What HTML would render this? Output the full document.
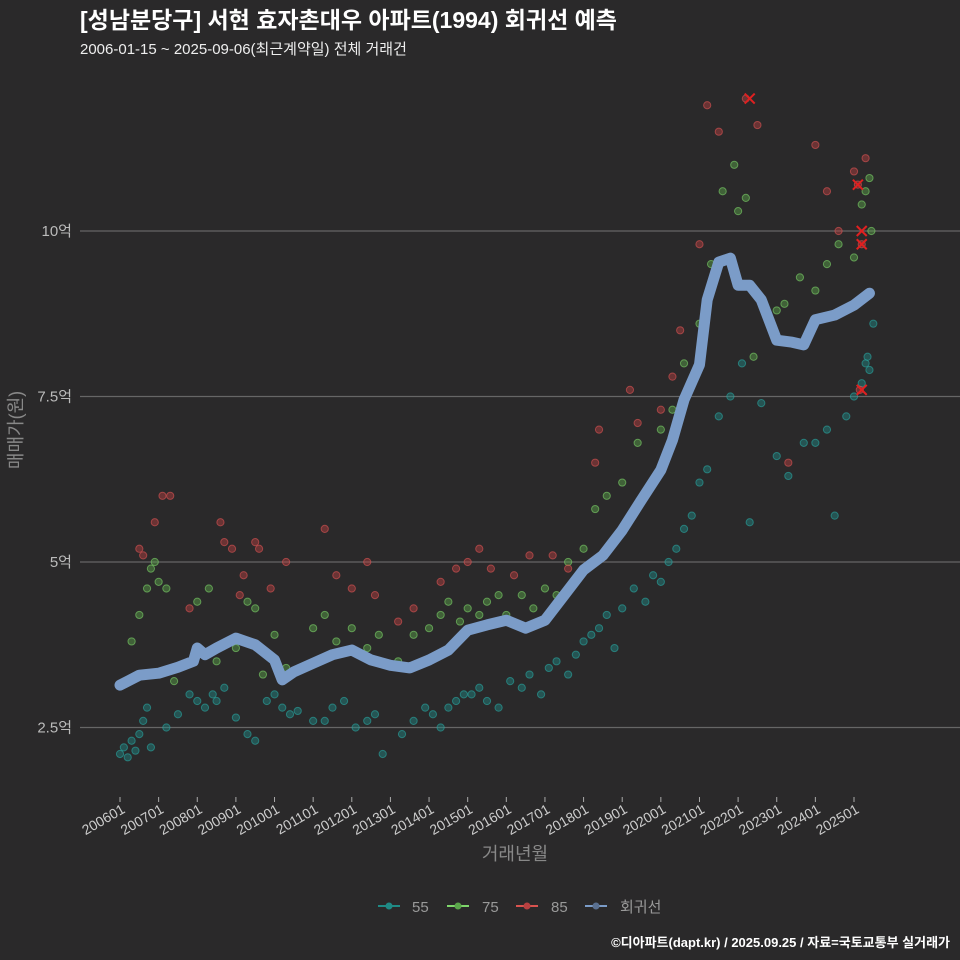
<!DOCTYPE html>
<html><head><meta charset="utf-8">
<style>
body{margin:0;background:#2a292a;}
svg{display:block;font-family:"Liberation Sans","Noto Sans CJK KR",sans-serif;}
</style></head>
<body>
<svg id="chart" width="960" height="960" viewBox="0 0 960 960">
<rect width="960" height="960" fill="#2a292a"/>
<text x="80" y="28" fill="#fff" font-size="23" font-weight="bold">[성남분당구] 서현 효자촌대우 아파트(1994) 회귀선 예측</text>
<text x="80" y="54" fill="#eee" font-size="15">2006-01-15 ~ 2025-09-06(최근계약일) 전체 거래건</text>
<g id="grid"></g>
<g id="yticks"></g>
<g id="xticks"></g>
<g id="points"></g>
<g id="reg"></g>
<g id="marks"></g>
<text transform="translate(22,430) rotate(-90)" text-anchor="middle" fill="#888" font-size="18">매매가(원)</text>
<text x="515" y="860" text-anchor="middle" fill="#888" font-size="18">거래년월</text>
<g font-size="15" fill="#999">
 <g><line x1="378" y1="906" x2="400" y2="906" stroke="#1f8a85" stroke-width="2"/><circle cx="389" cy="906" r="3.5" fill="#1f8a85"/><text x="412" y="912">55</text></g>
 <g><line x1="447" y1="906" x2="469" y2="906" stroke="#7ed66b" stroke-width="2"/><circle cx="458" cy="906" r="3.5" fill="#5aa64a"/><text x="482" y="912">75</text></g>
 <g><line x1="516" y1="906" x2="538" y2="906" stroke="#d9534f" stroke-width="2"/><circle cx="527" cy="906" r="3.5" fill="#b84040"/><text x="551" y="912">85</text></g>
 <g><line x1="585" y1="906" x2="607" y2="906" stroke="#7b9cc8" stroke-width="2"/><circle cx="596" cy="906" r="3.5" fill="#5a7090"/><text x="620" y="912">회귀선</text></g>
</g>
<text x="950" y="947" text-anchor="end" fill="#fff" font-size="13" font-weight="bold">©디아파트(dapt.kr) / 2025.09.25 / 자료=국토교통부 실거래가</text>
</svg>
<script>
const yTicks=[2.5,5,7.5,10];
const yTickLabels=["2.5억","5억","7.5억","10억"];
const xTickYears=[2006,2007,2008,2009,2010,2011,2012,2013,2014,2015,2016,2017,2018,2019,2020,2021,2022,2023,2024,2025];
const regX=[2006.0,2006.5,2007.0,2007.5,2007.9,2008.0,2008.2,2008.5,2009.0,2009.5,2010.0,2010.2,2010.5,2011.0,2011.5,2012.0,2012.5,2013.0,2013.5,2014.0,2014.5,2015.0,2015.5,2016.0,2016.5,2017.0,2017.5,2018.0,2018.5,2019.0,2019.5,2020.0,2020.3,2020.6,2021.0,2021.2,2021.5,2021.8,2022.0,2022.3,2022.6,2023.0,2023.4,2023.7,2024.0,2024.5,2025.0,2025.4];
const regY=[3.14,3.29,3.32,3.41,3.5,3.7,3.6,3.70,3.85,3.75,3.52,3.22,3.34,3.47,3.6,3.67,3.52,3.44,3.4,3.52,3.67,3.97,4.05,4.12,4.0,4.12,4.5,4.88,5.1,5.48,5.94,6.39,6.84,7.45,7.98,8.96,9.53,9.59,9.18,9.18,8.96,8.35,8.32,8.28,8.66,8.73,8.88,9.06];
const s55X=[2006.0,2006.1,2006.2,2006.3,2006.4,2006.5,2006.6,2006.7,2006.8,2007.2,2007.5,2007.8,2008.0,2008.2,2008.4,2008.5,2008.7,2009.0,2009.3,2009.5,2009.8,2010.0,2010.2,2010.4,2010.6,2011.0,2011.3,2011.5,2011.8,2012.1,2012.4,2012.6,2012.8,2013.3,2013.6,2013.9,2014.1,2014.3,2014.5,2014.7,2014.9,2015.1,2015.3,2015.5,2015.8,2016.1,2016.4,2016.6,2016.9,2017.1,2017.3,2017.6,2017.8,2018.0,2018.2,2018.4,2018.6,2018.8,2019.0,2019.3,2019.6,2019.8,2020.0,2020.2,2020.4,2020.6,2020.8,2021.0,2021.2,2021.5,2021.8,2022.1,2022.3,2022.6,2023.0,2023.3,2023.7,2024.0,2024.3,2024.5,2024.8,2025.0,2025.2,2025.3,2025.35,2025.4,2025.5];
const s55Y=[2.1,2.2,2.05,2.3,2.15,2.4,2.6,2.8,2.2,2.5,2.7,3.0,2.9,2.8,3.0,2.9,3.1,2.65,2.4,2.3,2.9,3.0,2.8,2.7,2.75,2.6,2.6,2.8,2.9,2.5,2.6,2.7,2.1,2.4,2.6,2.8,2.7,2.5,2.8,2.9,3.0,3.0,3.1,2.9,2.8,3.2,3.1,3.3,3.0,3.4,3.5,3.3,3.6,3.8,3.9,4.0,4.2,3.7,4.3,4.6,4.4,4.8,4.7,5.0,5.2,5.5,5.7,6.2,6.4,7.2,7.5,8.0,5.6,7.4,6.6,6.3,6.8,6.8,7.0,5.7,7.2,7.5,7.7,8.0,8.1,7.9,8.6];
const s75X=[2006.3,2006.5,2006.7,2006.8,2006.9,2007.0,2007.2,2007.4,2008.0,2008.3,2008.5,2009.0,2009.3,2009.5,2009.7,2010.0,2010.3,2011.0,2011.3,2011.6,2012.0,2012.4,2012.7,2013.2,2013.6,2014.0,2014.3,2014.5,2014.8,2015.0,2015.3,2015.5,2015.8,2016.0,2016.4,2016.7,2017.0,2017.3,2017.6,2018.0,2018.3,2018.6,2019.0,2019.4,2020.0,2020.3,2020.6,2021.0,2021.3,2021.6,2021.9,2022.0,2022.2,2022.4,2023.0,2023.2,2023.6,2024.0,2024.3,2024.6,2025.0,2025.2,2025.3,2025.4,2025.45];
const s75Y=[3.8,4.2,4.6,4.9,5.0,4.7,4.6,3.2,4.4,4.6,3.5,3.7,4.4,4.3,3.3,3.9,3.4,4.0,4.2,3.8,4.0,3.7,3.9,3.5,3.9,4.0,4.2,4.4,4.1,4.3,4.2,4.4,4.5,4.2,4.5,4.3,4.6,4.5,5.0,5.2,5.8,6.0,6.2,6.8,7.0,7.3,8.0,8.6,9.5,10.6,11.0,10.3,10.5,8.1,8.8,8.9,9.3,9.1,9.5,9.8,9.6,10.4,10.6,10.8,10.0];
const s85X=[2006.5,2006.6,2006.9,2007.1,2007.3,2007.8,2008.6,2008.7,2008.9,2009.1,2009.2,2009.5,2009.6,2009.9,2010.3,2011.3,2011.6,2012.0,2012.4,2012.6,2013.2,2013.6,2014.3,2014.7,2015.0,2015.3,2015.6,2016.2,2016.6,2017.2,2017.6,2018.3,2018.4,2019.2,2019.4,2020.0,2020.3,2020.5,2021.0,2021.2,2021.5,2022.2,2022.5,2023.3,2024.0,2024.3,2024.6,2025.0,2025.1,2025.3,2025.2,2025.15];
const s85Y=[5.2,5.1,5.6,6.0,6.0,4.3,5.6,5.3,5.2,4.5,4.8,5.3,5.2,4.6,5.0,5.5,4.8,4.6,5.0,4.5,4.1,4.3,4.7,4.9,5.0,5.2,4.9,4.8,5.1,5.1,4.9,6.5,7.0,7.6,7.1,7.3,7.8,8.5,9.8,11.9,11.5,12.0,11.6,6.5,11.3,10.6,10.0,10.9,10.7,11.1,9.8,7.6];
const hiX=[2022.3,2025.1,2025.2,2025.2,2025.2];
const hiY=[12.0,10.7,10.0,9.8,7.6];

const NS="http://www.w3.org/2000/svg";
const X0=120,XPY=(854-120)/19,L=80,R=960;
function xs(t){return X0+(t-2006)*XPY;}
function ys(v){return 231+(10-v)*66.2;}
function mk(tag,attrs,parent){const e=document.createElementNS(NS,tag);for(const k in attrs)e.setAttribute(k,attrs[k]);parent.appendChild(e);return e;}
const grid=document.getElementById('grid'),yt=document.getElementById('yticks'),xt=document.getElementById('xticks');
yTicks.forEach((v,i)=>{
 const l=mk('line',{x1:L,x2:R,y1:ys(v),y2:ys(v),stroke:'#666','stroke-width':1.2},grid);
 
 
 const t=mk('text',{x:72,y:ys(v)+5,'text-anchor':'end',fill:'#bbb','font-size':15},yt);
 t.textContent=yTickLabels[i];
 
 
});
xTickYears.forEach(yr=>{
 const x=xs(yr);
 const tk=mk('line',{x1:x,x2:x,y1:797,y2:802,stroke:'#aaa'},xt);
 
 
 const t=mk('text',{x:x+6,y:812,'text-anchor':'end',fill:'#ccc','font-size':14,transform:`rotate(-30 ${x+6} 812)`},xt);
 t.textContent=yr+'01';
 
 
});
const pts=document.getElementById('points');
function series(X,Y,fill,stroke,name){
 X.forEach((t,i)=>{
  const c=mk('circle',{cx:xs(t),cy:ys(Y[i]),r:3.6,fill:fill,stroke:stroke,'stroke-width':1,'fill-opacity':0.45,'stroke-opacity':0.6},pts);
  
  
 });
}
series(s55X,s55Y,'#1f8a85','#2aa9a3','point-55');
series(s75X,s75Y,'#5aa64a','#7ed66b','point-75');
series(s85X,s85Y,'#b84040','#e05555','point-85');
const reg=document.getElementById('reg');
const p=mk('polyline',{points:regX.map((t,i)=>xs(t)+','+ys(regY[i])).join(' '),fill:'none',stroke:'#7b9cc8','stroke-width':11,'stroke-linejoin':'round','stroke-linecap':'round'},reg);


const marks=document.getElementById('marks');
hiX.forEach((t,i)=>{
 const x=xs(t),y=ys(hiY[i]);
 const g=mk('path',{d:`M${x-5},${y-5}L${x+5},${y+5}M${x-5},${y+5}L${x+5},${y-5}`,stroke:'#e02020','stroke-width':2},marks);
 
 
});
</script>
</body></html>
